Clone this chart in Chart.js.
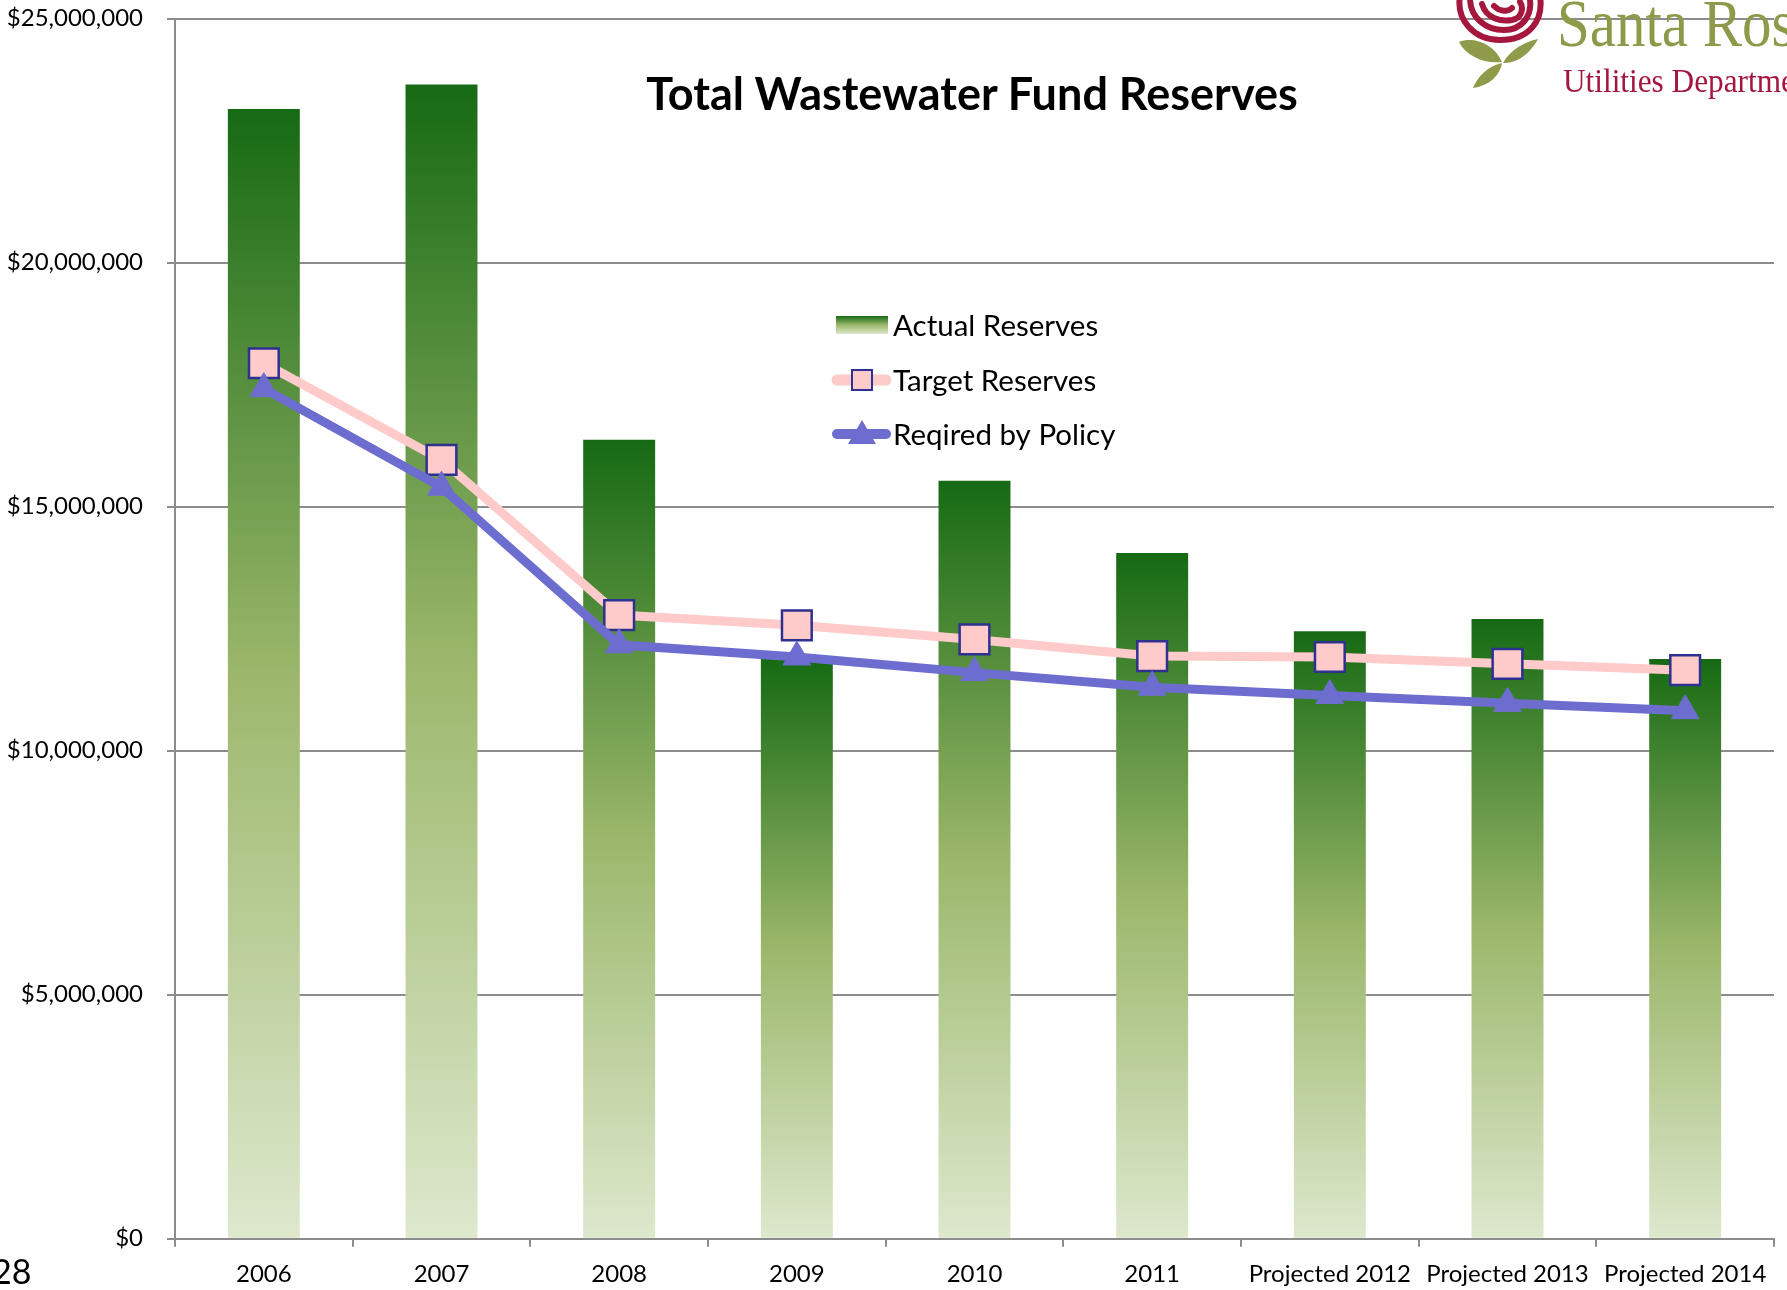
<!DOCTYPE html>
<html>
<head>
<meta charset="utf-8">
<script src="https://cdn.jsdelivr.net/npm/chart.js@4.4.1/dist/chart.umd.min.js"></script>
<style>
  html, body { margin: 0; padding: 0; background: #ffffff; overflow: hidden; }
  #wrap { position: relative; width: 1787px; height: 1290px; overflow: hidden; background: #fff; }
  #c { position: absolute; left: 0; top: 0; }
  .title { position: absolute; left: 0; width: 1944px; top: 65px; text-align: center;
           font-family: Lato, sans-serif; font-weight: bold; font-size: 45px; color: #000; line-height: 56px; }
  .pagenum { position: absolute; left: -8px; top: 1250px; font-family: Lato, sans-serif; font-size: 34px; color: #000; line-height: 42px; }
  .logo1 { position: absolute; left: 1557px; top: -15px; font-family: "Liberation Serif", serif; font-size: 67px;
           color: #8e9a4a; line-height: 76px; white-space: nowrap; transform: scaleX(0.88); transform-origin: left top; }
  .logo2 { position: absolute; left: 1563px; top: 62px; font-family: "Liberation Serif", serif; font-size: 34px;
           color: #a3173f; line-height: 38px; white-space: nowrap; transform: scaleX(0.92); transform-origin: left top; }
  #rose { position: absolute; left: 1450px; top: 0px; }
</style>
</head>
<body>
<div id="wrap">
  <canvas id="c" width="1787" height="1290"></canvas>
  <div class="title">Total Wastewater Fund Reserves</div>
  <div class="pagenum">28</div>
  <svg id="rose" width="100" height="95" viewBox="0 0 100 95">
    <g fill="none" stroke="#a5173d" stroke-width="6" stroke-linecap="round">
      <path d="M 10 -4 C 6 20, 24 40, 50 40 C 78 40, 94 22, 90 -4"/>
      <path d="M 20 -2 C 20 18, 36 30, 54 30 C 72 30, 82 16, 80 0"/>
      <path d="M 32 4 C 36 18, 50 22, 62 20 C 72 18, 74 8, 70 2"/>
      <path d="M 44 6 C 50 12, 58 12, 62 8"/>
    </g>
    <g fill="#8f9a4b">
      <path d="M 9 42 C 24 36, 44 44, 52 62 C 34 64, 16 56, 9 42 Z"/>
      <path d="M 88 39 C 80 54, 66 64, 53 63 C 60 50, 74 42, 88 39 Z"/>
      <path d="M 52 63 C 50 76, 38 86, 23 88 C 28 76, 38 66, 52 63 Z"/>
    </g>
  </svg>
  <div class="logo1">Santa Rosa</div>
  <div class="logo2">Utilities Department</div>
</div>
<script>
const categories = ["2006", "2007", "2008", "2009", "2010", "2011", "Projected 2012", "Projected 2013", "Projected 2014"];
const actualReserves = [23150000, 23650000, 16370000, 11880000, 15530000, 14050000, 12450000, 12700000, 11880000];
const targetReserves = [17940000, 15960000, 12780000, 12570000, 12280000, 11940000, 11920000, 11780000, 11650000];
const requiredByPolicy = [17420000, 15400000, 12170000, 11920000, 11600000, 11300000, 11130000, 10970000, 10820000];
const yTicks = { min: 0, max: 25000000, step: 5000000 };
const legendLabels = ["Actual Reserves", "Target Reserves", "Reqired by Policy"];

const GRID = '#8c8c8c';
const PINK = '#ffcaca';
const BLUE = '#6d6dd0';
const NAVY = '#2e3190';

function addBarStops(g) {
  g.addColorStop(0, '#166a13');
  g.addColorStop(0.5, '#9cb76b');
  g.addColorStop(1, '#dde8cd');
  return g;
}

const barGradient = (ctx) => {
  const chart = ctx.chart;
  if (!chart.chartArea || ctx.type !== 'data' || !chart.scales.y) return '#5a9040';
  const ys = chart.scales.y;
  const top = ys.getPixelForValue(ctx.raw);
  const bottom = ys.getPixelForValue(0);
  if (!isFinite(top) || !isFinite(bottom) || bottom - top < 1) return '#5a9040';
  return addBarStops(chart.ctx.createLinearGradient(0, top, 0, bottom));
};

const legendPlugin = {
  id: 'customLegend',
  afterDraw(chart) {
    const c = chart.ctx;
    c.save();
    // Actual reserves patch
    c.fillStyle = addBarStops(c.createLinearGradient(0, 316, 0, 334));
    c.fillRect(836, 316, 52, 18);
    // Target line
    c.lineCap = 'round';
    c.strokeStyle = PINK; c.lineWidth = 11;
    c.beginPath(); c.moveTo(837, 380); c.lineTo(886, 380); c.stroke();
    c.fillStyle = PINK; c.strokeStyle = NAVY; c.lineWidth = 2;
    c.fillRect(852, 370, 20, 20); c.strokeRect(852, 370, 20, 20);
    // Policy line
    c.strokeStyle = BLUE; c.lineWidth = 10;
    c.beginPath(); c.moveTo(837, 434); c.lineTo(886, 434); c.stroke();
    c.fillStyle = BLUE;
    c.beginPath(); c.moveTo(862, 420); c.lineTo(876, 444); c.lineTo(848, 444); c.closePath(); c.fill();
    // Text
    c.fillStyle = '#000';
    c.font = '29.5px Lato, sans-serif';
    c.textBaseline = 'middle';
    c.textAlign = 'left';
    c.fillText(legendLabels[0], 893, 326);
    c.fillText(legendLabels[1], 893, 381);
    c.fillText(legendLabels[2], 893, 435);
    c.restore();
  }
};

new Chart(document.getElementById('c'), {
  type: 'bar',
  data: {
    labels: categories,
    datasets: [
      {
        type: 'line', label: legendLabels[2], data: requiredByPolicy, order: 0,
        borderColor: BLUE, backgroundColor: BLUE, borderWidth: 9, tension: 0,
        pointStyle: 'triangle', pointRadius: 16, pointHoverRadius: 16,
        pointBackgroundColor: BLUE, pointBorderColor: BLUE, pointBorderWidth: 1
      },
      {
        type: 'line', label: legendLabels[1], data: targetReserves, order: 1,
        borderColor: PINK, backgroundColor: PINK, borderWidth: 9, tension: 0,
        pointStyle: 'rect', pointRadius: 21, pointHoverRadius: 21,
        pointBackgroundColor: PINK, pointBorderColor: NAVY, pointBorderWidth: 2.5
      },
      {
        type: 'bar', label: legendLabels[0], data: actualReserves, order: 2,
        backgroundColor: barGradient, borderWidth: 0,
        categoryPercentage: 1.0, barPercentage: 0.405
      }
    ]
  },
  options: {
    responsive: false,
    animation: false,
    events: [],
    layout: { autoPadding: false, padding: { top: 18.7, right: 13, bottom: 0, left: 0 } },
    plugins: { legend: { display: false }, title: { display: false }, tooltip: { enabled: false } },
    scales: {
      x: {
        afterFit(scale) { scale.height = 51.3; scale.paddingLeft = 0; scale.paddingRight = 0; },
        grid: { display: true, offset: true, drawOnChartArea: false, drawTicks: true, tickLength: 8, color: GRID, lineWidth: 2 },
        border: { display: true, color: GRID, width: 2 },
        ticks: { color: '#000', font: { family: 'Lato, sans-serif', size: 24 }, padding: 13, maxRotation: 0, autoSkip: false }
      },
      y: {
        min: yTicks.min, max: yTicks.max,
        afterFit(scale) { scale.width = 175; scale.paddingTop = 0; scale.paddingBottom = 0; },
        grid: { color: GRID, lineWidth: 2, drawTicks: true, tickLength: 8 },
        border: { display: true, color: GRID, width: 2 },
        ticks: {
          stepSize: yTicks.step, color: '#000', padding: 24,
          font: { family: 'Lato, sans-serif', size: 24 },
          callback: (v) => '$' + Number(v).toLocaleString('en-US')
        }
      }
    }
  },
  plugins: [legendPlugin]
});
</script>
</body>
</html>
